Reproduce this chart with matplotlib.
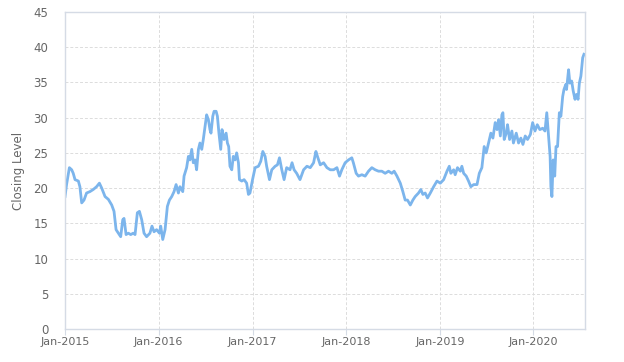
import matplotlib
matplotlib.use("Agg")
import matplotlib.pyplot as plt
import matplotlib.dates as mdates
import pandas as pd

dates = [
    "2015-01-01", "2015-01-07", "2015-01-18", "2015-01-27", "2015-02-02", "2015-02-09",
    "2015-02-22", "2015-02-28", "2015-03-07", "2015-03-16", "2015-03-26", "2015-04-08",
    "2015-04-21", "2015-05-04", "2015-05-15", "2015-05-24", "2015-06-06", "2015-06-19",
    "2015-07-02", "2015-07-11", "2015-07-19", "2015-07-28", "2015-08-06", "2015-08-14",
    "2015-08-19", "2015-08-27", "2015-09-05", "2015-09-14", "2015-09-24", "2015-10-01",
    "2015-10-10", "2015-10-18", "2015-10-27", "2015-11-05", "2015-11-15", "2015-11-28",
    "2015-12-06", "2015-12-14", "2015-12-24", "2016-01-04", "2016-01-09", "2016-01-17",
    "2016-01-26", "2016-02-04", "2016-02-12", "2016-02-21", "2016-03-01", "2016-03-09",
    "2016-03-18", "2016-03-24", "2016-04-04", "2016-04-09", "2016-04-19", "2016-04-26",
    "2016-05-02", "2016-05-09", "2016-05-15", "2016-05-22", "2016-05-28", "2016-06-04",
    "2016-06-10", "2016-06-17", "2016-06-23", "2016-06-30", "2016-07-06", "2016-07-13",
    "2016-07-19", "2016-07-23", "2016-07-30", "2016-08-04", "2016-08-12", "2016-08-17",
    "2016-08-23", "2016-08-30", "2016-09-04", "2016-09-12", "2016-09-20", "2016-09-25",
    "2016-09-30", "2016-10-05", "2016-10-12", "2016-10-18", "2016-10-25", "2016-10-31",
    "2016-11-07", "2016-11-11", "2016-11-20", "2016-11-29", "2016-12-09", "2016-12-16",
    "2016-12-22", "2017-01-01", "2017-01-11", "2017-01-24", "2017-02-02", "2017-02-10",
    "2017-02-19", "2017-02-25", "2017-03-08", "2017-03-17", "2017-03-30", "2017-04-08",
    "2017-04-16", "2017-04-25", "2017-05-04", "2017-05-14", "2017-05-27", "2017-06-04",
    "2017-06-12", "2017-06-22", "2017-07-05", "2017-07-19", "2017-08-01", "2017-08-14",
    "2017-08-27", "2017-09-05", "2017-09-11", "2017-09-22", "2017-10-05", "2017-10-18",
    "2017-10-31", "2017-11-13", "2017-11-26", "2017-12-06", "2017-12-15", "2017-12-28",
    "2018-01-10", "2018-01-23", "2018-01-29", "2018-02-09", "2018-02-18", "2018-03-03",
    "2018-03-16", "2018-03-29", "2018-04-11", "2018-04-24", "2018-05-07", "2018-05-20",
    "2018-06-02", "2018-06-15", "2018-06-28", "2018-07-07", "2018-07-18", "2018-07-31",
    "2018-08-10", "2018-08-19", "2018-08-28", "2018-09-08", "2018-09-18", "2018-09-27",
    "2018-10-10", "2018-10-19", "2018-10-27", "2018-11-05", "2018-11-14", "2018-11-25",
    "2018-12-08", "2018-12-21", "2019-01-03", "2019-01-16", "2019-01-29", "2019-02-07",
    "2019-02-13", "2019-02-24", "2019-03-02", "2019-03-11", "2019-03-22", "2019-03-28",
    "2019-04-04", "2019-04-14", "2019-04-23", "2019-05-02", "2019-05-13", "2019-05-26",
    "2019-06-04", "2019-06-14", "2019-06-23", "2019-07-01", "2019-07-10", "2019-07-19",
    "2019-07-27", "2019-08-05", "2019-08-12", "2019-08-18", "2019-08-25", "2019-08-31",
    "2019-09-04", "2019-09-09", "2019-09-17", "2019-09-22", "2019-09-30", "2019-10-09",
    "2019-10-15", "2019-10-26", "2019-11-04", "2019-11-13", "2019-11-21", "2019-11-30",
    "2019-12-09", "2019-12-20", "2019-12-29", "2020-01-07", "2020-01-16", "2020-01-26",
    "2020-02-06", "2020-02-15", "2020-02-22", "2020-02-27", "2020-03-02", "2020-03-06",
    "2020-03-09", "2020-03-13", "2020-03-18", "2020-03-24", "2020-03-29", "2020-04-04",
    "2020-04-11", "2020-04-17", "2020-04-24", "2020-04-29", "2020-05-06", "2020-05-09",
    "2020-05-17", "2020-05-22", "2020-05-29", "2020-06-04", "2020-06-11", "2020-06-17",
    "2020-06-23", "2020-06-28", "2020-07-04", "2020-07-11", "2020-07-16",
]

closing = [
    18.8, 20.5, 22.9, 22.6, 22.1, 21.2,
    21.0, 20.2, 17.9, 18.3, 19.3, 19.5,
    19.8, 20.2, 20.7, 20.0, 18.8, 18.4,
    17.6, 16.7, 14.1, 13.6, 13.1, 15.5,
    15.7, 13.4, 13.6, 13.4, 13.6, 13.4,
    16.5, 16.7, 15.5, 13.6, 13.1, 13.6,
    14.6, 13.8, 14.1, 13.6, 14.6, 12.7,
    14.1, 17.4, 18.3, 18.8, 19.5, 20.5,
    19.3, 20.2, 19.5, 21.7, 22.9, 24.5,
    24.0, 25.5, 23.6, 24.0, 22.6, 25.5,
    26.4, 25.5, 26.9, 28.8, 30.4, 29.7,
    28.3, 27.8, 30.2, 30.9, 30.9, 30.2,
    27.8, 25.5, 28.3, 26.9, 27.8, 26.4,
    25.9, 23.1, 22.6, 24.5, 24.0, 25.0,
    23.6, 21.2, 21.0, 21.2, 20.7, 19.1,
    19.3, 21.2, 22.9, 23.1, 23.8, 25.2,
    24.5, 23.1, 21.2, 22.6, 23.1, 23.3,
    24.3, 22.6, 21.2, 22.9, 22.6, 23.6,
    22.6, 22.1, 21.2, 22.6, 23.1, 22.9,
    23.6, 25.2, 24.5, 23.3, 23.6, 22.9,
    22.6, 22.6, 22.9, 21.7, 22.6, 23.6,
    24.0, 24.3, 23.6, 22.1, 21.7, 21.9,
    21.7, 22.4, 22.9, 22.6, 22.4, 22.4,
    22.1, 22.4, 22.1, 22.4, 21.7, 20.7,
    19.5, 18.3, 18.3, 17.6, 18.3, 18.8,
    19.3, 19.8, 19.1, 19.3, 18.6, 19.3,
    20.2, 21.0, 20.7, 21.2, 22.4, 23.1,
    22.1, 22.6, 21.9, 22.9, 22.4, 23.1,
    22.1, 21.7, 21.0, 20.2, 20.5, 20.5,
    22.1, 22.9, 25.9, 25.0, 26.4, 27.8,
    27.1, 29.3, 28.3, 29.7, 27.4, 30.4,
    30.7, 26.9, 27.8, 29.0, 26.9, 28.1,
    26.4, 27.8, 26.4, 27.1, 26.2, 27.4,
    26.9, 27.6, 29.3, 28.1, 29.0, 28.3,
    28.5, 28.1, 30.7, 28.3, 26.4, 24.5,
    20.2, 18.8, 24.0, 21.7, 25.9, 25.9,
    30.7, 30.2, 33.0, 34.0, 34.7, 34.0,
    36.8, 34.9, 35.2, 33.8, 32.6, 33.3,
    32.6, 34.9, 35.9, 38.5, 39.0,
]

y_ticks = [0, 5, 10, 15, 20, 25, 30, 35, 40, 45]
x_tick_dates = ["2015-01-01", "2016-01-01", "2017-01-01", "2018-01-01", "2019-01-01", "2020-01-01"]
x_tick_labels = ["Jan-2015", "Jan-2016", "Jan-2017", "Jan-2018", "Jan-2019", "Jan-2020"]
y_label = "Closing Level"

x = pd.to_datetime(dates)

fig = plt.figure(figsize=(6.24, 3.62), dpi=100)
ax = fig.add_axes([0.1042, 0.0912, 0.8333, 0.8757])

ax.plot(x, closing, color="#7cb5ec", lw=2.0, solid_joinstyle="round")

ax.set_xlim(pd.Timestamp("2015-01-01"), pd.Timestamp("2020-07-20"))
ax.set_ylim(0, 45)
ax.set_yticks(y_ticks)
ax.set_xticks(pd.to_datetime(x_tick_dates))
ax.set_xticklabels(x_tick_labels)

ax.grid(True, color="#dcdcdc", linestyle=(0, (3, 2)), linewidth=0.7)
ax.set_axisbelow(True)
for s in ax.spines.values():
    s.set_color("#d5dbe5")
    s.set_linewidth(1.0)

ax.tick_params(axis="y", length=0, pad=12, labelsize=8.5, labelcolor="#666666")
ax.tick_params(axis="x", length=4, color="#d5dbe5", pad=2, labelsize=8, labelcolor="#666666")
ax.set_ylabel(y_label, fontsize=8.5, color="#666666", labelpad=6)

fig.savefig("out.png", dpi=100)
